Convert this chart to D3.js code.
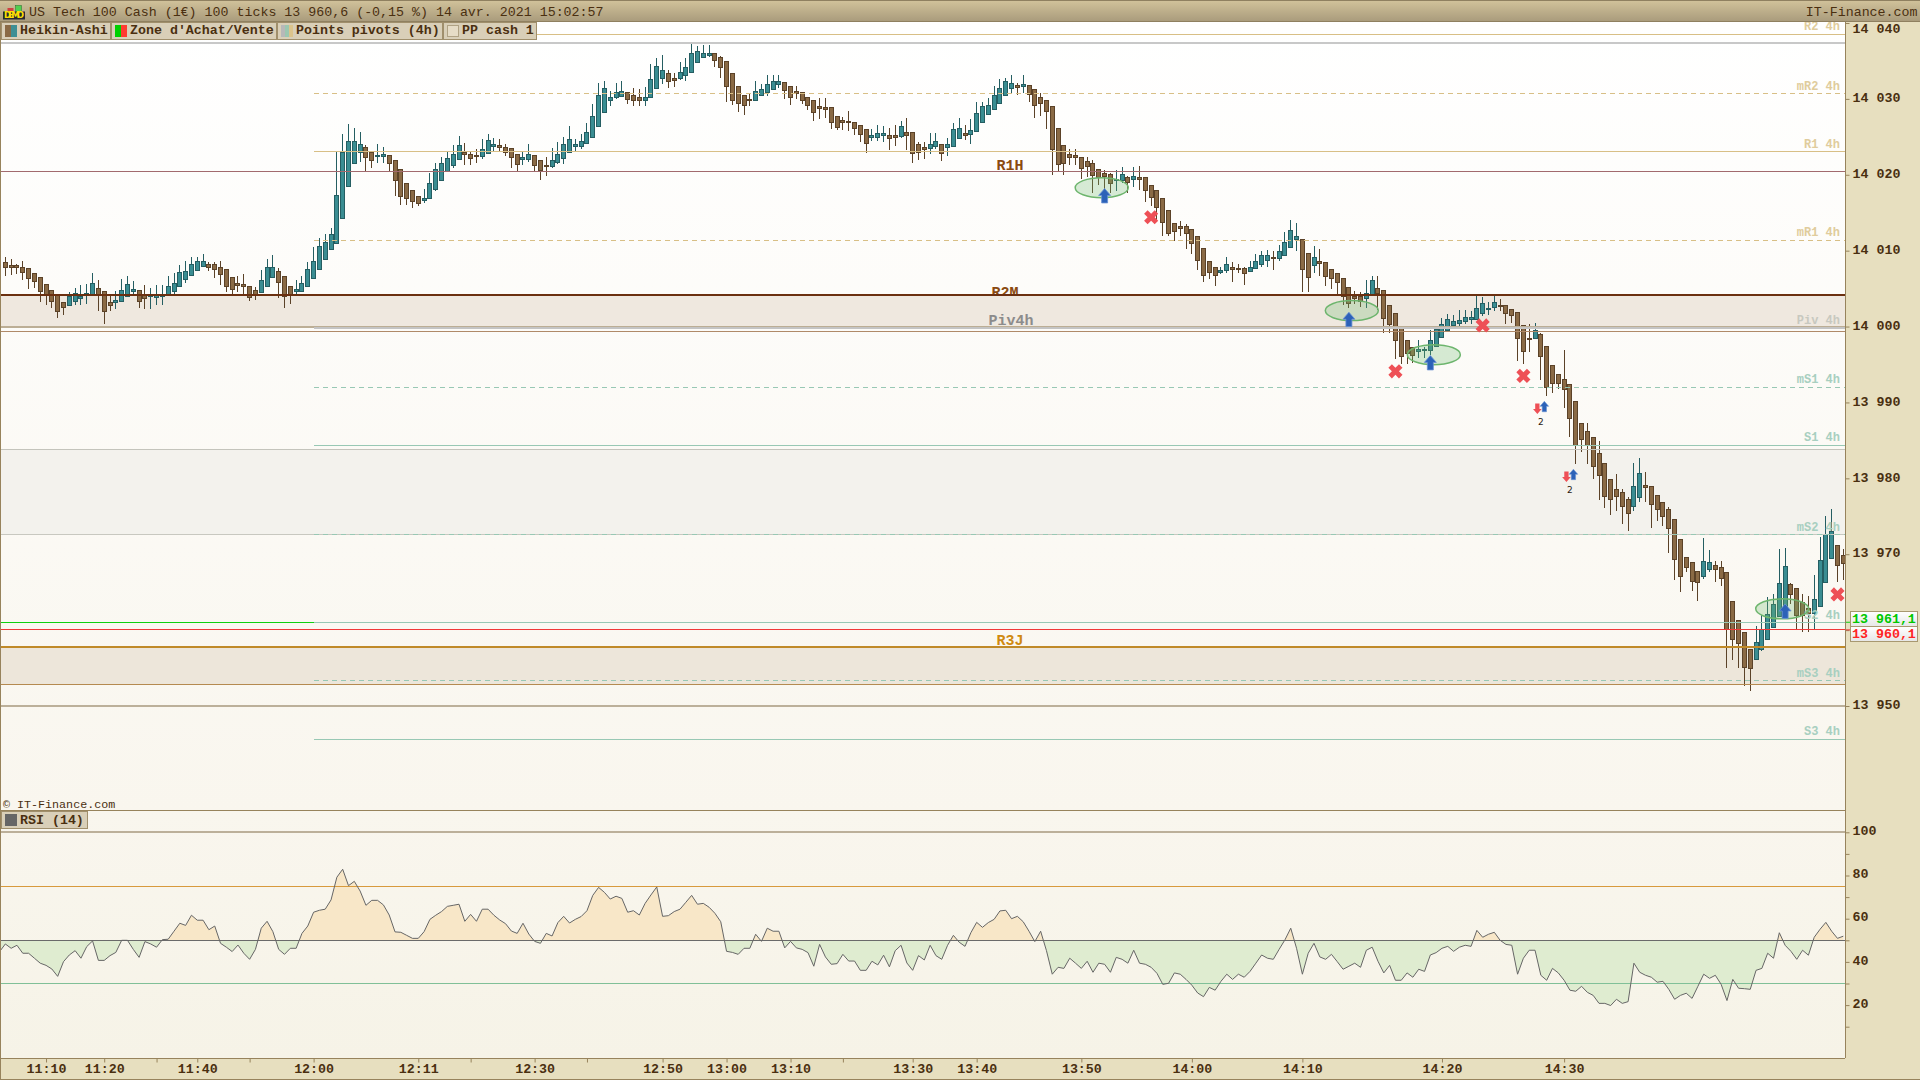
<!DOCTYPE html>
<html>
<head>
<meta charset="utf-8">
<title>US Tech 100 Cash</title>
<script src="https://cdn.jsdelivr.net/npm/d3@7"></script>
<style>
  html, body { margin: 0; padding: 0; background: #e7dfbf; overflow: hidden; }
  svg { display: block; }
  text { font-family: "Liberation Mono", monospace; }
</style>
</head>
<body>
<div id="chart"></div>
<script>
// Heikin-Ashi bars, in points above/below the 14 000 level
const basePrice = 14000;

const opens = [
  8.5,8.1,8.1,7.9,7.7,7,6.5,5.6,4.8,4.2, 3.2,2.8,3.3,3.8,4.3,4.3,5.1,4.7,3.3,3.2,
  3.3,4,4.7,4.8,4.2,4,4,4.1,4.2,4.7, 5.3,6.2,6.8,7.4,8,8.3,8.2,7.9,7.6,6.5,
  5.7,5.6,5.4,4.8,4.5,5.3,6.6,7.3,6.6,5.3, 4.7,4.7,5.3,6.4,7.6,9,10.2,11.1,14.3,18.6,
  21.5,23,23.6,23,22.5,22.5,22.6,22,20.7,18.9, 18,17.2,16.7,16.9,18,19.3,20.5,21.3,22,23,
  22.8,22.6,22.5,22.9,23.7,23.9,23.7,23.5,22.8,22.1, 22.2,22.6,21.9,21.3,21.2,21.6,22.2,23,23.8,23.8,
  24.3,24.9,26.4,28.4,29.9,30.2,30.5,30.9,30.5,30.2, 29.9,30.2,31.4,32.8,33.4,32.8,32.7,33.1,33.6,34.8,
  35.6,35.8,36,35.5,35,33.4,31.7,30.5,30,29.9, 30.5,30.8,31.3,31.9,32.2,31.7,31,30.9,30.3,29.8,
  29,28.9,28.9,27.8,27.2,27.1,27,26.6,26,25, 25,25.3,25.3,25.2,25.1,25.7,25.6,24.1,23.6,23.6,
  23.8,24.1,23.6,23.7,24.8,25.5,25.4,25.7,26.9,28, 28.6,29.5,30.5,31.4,31.8,31.6,31.8,31.3,30.2,29.8,
  29,26.2,23.9,22.7,22.6,22.4,21.8,21.5,20.7,20.2, 20.1,19.3,19.3,19.7,19.4,19.7,19.7,18.7,18,16.9,
  15.3,13.7,13.3,13.2,12.8,11.9,10.3,8.6,7.8,7.2, 7.4,7.8,7.7,7.7,7.4,7.7,8.2,8.7,9.1,9,
  9.5,10.5,11.5,11.6,9.7,8.1,8.6,8.5,7.6,7, 6.4,5.2,4,4,3.7,4.3,5.1,4.8,2.9,1.8,
  0,-1.8,-2.7,-3.2,-3.1,-3.1,-2.5,-1.4,-0.5,0.2, 0.4,0.7,1,1,1.8,2.4,2.5,2.9,2.8,2.3,
  1.9,0.2,-1.5,-1.6,-1,-2.5,-5.1,-6.3,-6.9,-7.6, -9.8,-12.7,-13.7,-14.6,-16.6,-18,-20.1,-21.4,-21.8,-22.7,
  -23.7,-22.4,-20.9,-21,-22.2,-23.1,-24.1,-25.4,-28,-30.4, -31,-32.2,-32.9,-31.9,-31.4,-31.7,-32.4,-36.2,-38.7,-40.3,
  -42.5,-43.9,-42.6,-41.2,-39.6,-38.1,-38.4,-33.9,-34.5,-36.3, -37.1,-37.7,-36.7,-33.7,-30.5,-28.8,-30.1
];
const closes = [
  7.8,7.9,7.8,7.2,6.4,6,4.6,4.2,3.3,2.1, 2.5,4,4.4,4,4.4,5.8,4.2,2.1,2.9,3.5,
  4.8,5.6,4.9,3.4,3.8,4.1,4.2,4.2,5.4,5.7, 7.2,7.3,8.2,8.6,8.6,7.9,7.6,7,5.4,4.9,
  5.4,5.3,4,4.3,6.1,7.8,7.9,5.8,4,4.1, 4.9,5.7,7.6,8.7,10.6,11.2,12.2,17.4,23,24.5,
  24.4,24.1,22.3,22,22.6,22.7,21.6,19.3,17.2,16.9, 16.5,16.3,17,18.9,20.7,21.6,22.2,22.8,23.9,22.7,
  22.3,22.5,23.4,24.6,24,23.7,23,22.3,21.5,22.3, 22.8,21.3,20.6,21.2,22,22.7,24,24.7,24,24.5,
  25.7,27.7,30.5,31.5,30.3,30.9,31.1,30,29.8,29.8, 30.3,32.6,34.3,33.8,32.4,32.5,33.5,34.2,36.1,36.3,
  36.1,36.1,35.1,34.2,31.7,29.9,29.4,29.2,29.9,31.1, 31.3,31.9,32.4,32.3,31.2,30.3,30.7,29.9,29.2,28.2,
  28.7,28.7,26.9,26.3,26.9,27,26.2,25.4,24.1,25.2, 25.5,25.5,24.9,25,26.4,25.3,22.8,23,23.4,24.1,
  24.4,22.9,24,26,26.1,25.3,25.9,28.1,29,29.2, 30.5,31.5,32.4,32.1,31.5,31.9,30.6,29.2,29.4,28.4,
  23.3,21.5,21.5,22.3,22.4,20.9,21.1,19.9,19.6,19.8, 18.9,19.4,20.1,19.1,19.8,19.5,18,17.1,15.8,13.7,
  12.3,12.6,13.1,12.3,10.9,8.7,6.7,7.2,6.7,7.4, 8.2,7.6,7.6,7.1,7.9,8.6,9.4,9.4,9,9.9,
  11.2,12.7,11.9,7.6,6.5,9.1,8.4,6.6,6.4,5.8, 4,3.1,3.8,3.4,4.4,6.1,4.5,1.1,0.4,-1.7,
  -3.8,-3.5,-3.8,-3,-3,-1.8,-0.3,0.3,1,0.7, 0.8,1.2,1.2,2.4,3.1,2.5,3.2,2.8,1.8,1.5,
  -1.5,-3.2,-1.6,-0.5,-3.9,-7.9,-7.5,-7.5,-8.2,-12.1, -15.6,-14.8,-15.6,-18.4,-19.5,-22.4,-22.7,-22.3,-23.6,-24.5,
  -21,-19.3,-21.2,-23.4,-24,-25,-26.6,-30.7,-32.9,-31.7, -33.5,-33.6,-30.9,-31,-31.9,-33.2,-39.9,-41.2,-41.7,-44.9,
  -45,-41.6,-39.9,-37.9,-36.6,-33.8,-31.6,-35.2,-38.1,-38, -37.7,-35.9,-30.7,-27.4,-27,-31.4,-31.2
];
const highs = [
  9.2,8.9,8.2,8.6,7.7,7,6.5,5.6,4.8,4.2, 3.3,4.5,5.1,5.5,5.6,7.1,6.1,4.7,4.2,4.7,
  6.3,6.7,6,4.8,5.5,5.1,5.5,5.5,6.7,7.1, 8.1,8.6,9.2,9.2,9.6,8.5,8.5,8.6,7.6,6.5,
  6.7,6.9,5.4,5.2,7.5,8.9,9.4,7.7,6.6,5.3, 6.1,6.7,8.5,10.5,11.7,12.2,13,23,25.4,26.7,
  26.2,25.6,23.9,23.1,24.1,23.7,22.6,22,20.7,18.9, 18,17.2,18.1,20.2,21.6,22.4,23,23.9,25.1,24.2,
  23,23.4,24.7,25.4,24.8,24.7,24.1,23.5,22.8,23, 24.1,22.6,21.9,22.3,23.5,24.3,25,26.4,24.7,25.4,
  26.8,29.3,32.1,32.3,31.1,32.1,32.3,30.9,31.4,31.3, 31.6,34.6,35.4,35.8,33.8,33.4,34.8,35.4,37.3,37,
  37.1,37.1,36,35.7,35,33.4,31.7,30.5,30.6,32.4, 32,33.1,33.1,33.1,32.2,31.7,31.7,30.9,30.3,29.8,
  30.1,30.1,28.9,27.8,27.6,28.4,27,26.6,26,26, 26.5,26.4,26.2,26.6,27.1,27.5,25.6,24.3,24.3,25.5,
  25.5,24.1,24.8,26.8,27.5,26.6,27.3,29.6,29.6,30.1, 31.7,32.6,32.8,33.1,32.1,33.1,31.8,31.3,30.8,29.8,
  29,26.2,23.9,23.4,23.4,22.4,22.4,21.9,20.7,20.6, 20.3,20.6,21,19.8,21,21.2,19.7,18.7,18,16.9,
  15.3,13.7,13.9,13.5,12.8,11.9,10.3,8.6,7.8,7.9, 9.1,8.5,8.3,7.9,8.6,9.5,9.9,10.1,9.9,10.7,
  12.4,14.1,13.7,11.6,9.7,10.6,10.2,8.5,7.6,7, 6.4,5.2,4.7,4.5,6.1,6.6,6.7,4.8,2.9,1.8,
  0,-1.8,-2.7,-1.8,-2.7,-0.5,0.1,1.1,1.7,1.5, 2.2,2.2,2,4.2,3.9,3.3,4,3.6,2.9,2.3,
  1.9,0.2,0.4,0.5,-0.9,-2.5,-5.1,-6.3,-3.1,-7.6, -9.8,-12.7,-12.7,-14.6,-15.1,-18,-20.1,-19.4,-21.4,-22.5,
  -18,-17.3,-19.1,-21,-22.2,-23.1,-23.8,-25.4,-28,-30.4, -31,-32.2,-27.8,-29.5,-30.9,-30.9,-32.4,-36.2,-38.7,-40.3,
  -42.5,-39.4,-38,-35.7,-35.2,-29.3,-29.2,-33.8,-34.5,-35.3, -35.5,-32.7,-27.7,-24.9,-24.1,-28.8,-29.3
];
const lows = [
  6.6,6.8,6.9,6.1,5,5.1,3.3,2.9,2.4,1.1, 1.5,2.8,2.9,2.8,3,4.2,2.1,0.4,2.1,2.3,
  3.3,4,4,2.5,2.3,2.3,2.9,2.9,4.2,4.2, 5.3,5.7,6.7,7.4,7.9,7.3,6.4,5.5,4.5,4.1,
  4.6,4.2,3.4,3.5,4.4,5.3,6.6,3.8,2.5,3, 4.2,4.5,5.3,6.3,7.5,9,10.1,11.1,14.2,18.6,
  21.5,21.7,20.5,20.9,21.6,21.6,20.5,17.2,16,16, 15.6,15.9,16.3,16.8,17.9,19.2,20.5,20.9,22,21.3,
  21.3,21.6,22.1,22.8,23,23.1,22.5,20.9,20.5,21.3, 21.7,20.5,19.3,19.9,20.9,21.4,21.4,22.9,23,23.4,
  24.2,24.9,26.3,28.3,29.1,30,30.2,29.3,29.1,29.1, 29.1,30.2,31.3,31.9,31.4,31.6,32.5,32.4,33.5,34.7,
  35.4,35.5,34.2,32.8,29.6,29.2,28.3,27.9,29.1,29.9, 30.4,30.4,31.3,31.4,30,29.2,30,29.3,28.5,27.1,
  27.4,27.5,26,25.9,25.9,25.8,25.2,24.3,22.9,24.4, 24.5,24.3,23.3,23.8,24.9,23.3,21.6,22,22.1,22.7,
  23.4,21.8,22.5,23.7,24.7,24.6,24.1,25.7,26.9,27.9, 28.6,29.5,30.4,30.8,30.5,30.8,29.6,27.5,27.7,26,
  20,20.5,20,21.3,21.3,19.5,19.7,17.6,18.7,18, 17.6,17.9,18.9,17.6,18.4,18,16.4,15.9,13.8,11.9,
  11.9,11.3,11.9,10.2,9.6,7.4,5.9,6.3,5.4,6.9, 7.1,5.9,7,5.5,7.4,7.6,7.9,7.9,7.5,8.7,
  9.5,10.4,9.9,4.6,4.6,7,6.6,5.4,4.9,4.3, 2.9,2.5,3,2.6,2.5,4,2.2,-0.8,-0.9,-4.3,
  -4.9,-4.9,-4.8,-4.2,-4.2,-3.8,-2.5,-1.4,-0.5,0.1, -0.1,0.3,0.3,1,1.4,1.5,2.1,2.1,0.4,0.5,
  -4.5,-4.9,-3.3,-1.6,-7,-9.1,-8.7,-8.2,-10.7,-14.5, -18.1,-16.5,-18.1,-20.1,-22.8,-23.9,-24.8,-24.3,-26,-27,
  -24.3,-23.1,-23.1,-26.5,-25.6,-26.3,-29.8,-33.4,-35,-32.4, -34.8,-36.1,-33.3,-32.3,-33.6,-34.2,-45,-44,-45,-47.3,
  -48,-43.9,-42.7,-41.2,-39.6,-38.1,-38.4,-36.5,-39.9,-40.3, -40.3,-39.9,-36.7,-33.7,-30.6,-33.7,-33.4
];

// RSI (14), first value belongs to the bar just off the left edge
const rsiValues = [
  44.7,
  48.3,46.3,47.7,44,44,41.7,39.4,38.4,36.7,33.3, 40.1,43.2,45.2,41.7,47.1,49.7,40.7,40.7,42.9,44.4,
  50,50,45.8,42.1,49.4,48.3,46.8,50.3,50.5,54.2, 57.9,56.9,61.6,59.3,59.3,54.9,56.6,48.6,46.8,44.8,
  47.8,44,41.2,45.8,55.6,58.8,54,45.8,43.5,46.3, 46.3,53.2,56.6,63,63.9,64.4,68.7,79.2,82.9,75.3,
  77.3,72.8,66.2,68.5,68.5,66.4,61.7,53.9,53.7,52.3, 50.9,50.9,54,59.7,61.6,63.3,65.7,66.2,66.7,58.8,
  62,58.8,64.4,64.4,61.6,59.4,57.7,54.3,53.2,57.9, 52.9,49.5,48.6,53.2,52,58.2,61.1,58,59.7,61,
  63.7,70.8,74.5,72.2,69.1,70.4,69.4,63,63.7,61.7,
  67.1,71,74.7,61.1,61.4,63.3,64.4,67.6,70.8,66.7, 67.1,65.3,62.5,58.6,44.9,44.4,43.5,46.3,46.3,52.8,
  49.5,55.6,54.2,54.2,46.5,49.5,46.5,45.8,44.3,38, 48.1,42.3,38.9,39.2,43.5,40.4,40.4,36.1,36.1,40.3,
  38.6,43.1,37.7,45.2,47.7,39.5,36.1,42.9,40.9,47.7, 42.9,41.2,47.7,52.3,49.1,47.2,53.5,58.3,56,58.2,
  59.7,63.6,63.9,60,61.1,58.6,54.2,49.4,54.2,45.2, 34.3,37.5,37,41.7,39.4,37,40.3,35.2,39.4,38.9,
  35.2,42.1,41.2,39.4,45.4,39.4,38.9,37.5,34.7,29.6, 30.1,34.9,34.3,31.9,29.2,25.6,23.9,28.2,26.9,31,
  34.3,31.9,34.3,32.9,35.6,39.4,43.2,41.7,41.2,45.8,
  50.2,55.6,46.3,34.3,44,48.6,42.3,41.2,43.5,40.1, 36.6,38,39.4,37.5,45.4,46.8,40.3,34.9,38.4,31.5,
  31.5,34.9,32.9,36.6,35.6,43.2,44.3,46.3,47.2,44.9, 46.8,47.7,47.2,54.6,51.4,52.8,53.7,50,48.1,47.7,
  34.3,41.7,45.4,45.4,33.8,31.5,37,34.9,31.5,26.9, 26.4,28.7,25.9,24.5,20.8,20.8,19.8,22.7,20.8,21.6,
  39.4,35.2,33.8,32.9,30.6,31,27.3,22.7,24.5,25.5, 23.1,28.7,34.3,32.4,33.8,29.6,22.1,31.9,27.8,27.6,
  27.3,36.1,37,44,41.7,53.5,47.7,44.9,41.2,45.4, 43.1,51.4,55.1,58.3,54.2,50.9,51.9
];

// Axes
const priceTicks = [14040, 14030, 14020, 14010, 14000, 13990, 13980, 13970, 13960, 13950];
const rsiTicks = [100, 90, 80, 70, 60, 50, 40, 30, 20, 10];
const timeBars = [7, 17, 26, 33, 42, 53, 71, 80, 91, 100, 113, 124, 135, 144, 156, 167, 185, 204, 223, 247, 268];
const timeLabels = ['11:10', '11:20', '', '11:40', '', '12:00', '12:11', '', '12:30', '', '12:50', '13:00', '13:10', '', '13:30', '13:40', '13:50', '14:00', '14:10', '14:20', '14:30'];

// Pivot levels, 4h pivots start at the 12:00 bar
const pivotStartBar = 53;
const pivotNames = ['R2 4h', 'mR2 4h', 'R1 4h', 'mR1 4h', 'Piv 4h', 'mS1 4h', 'S1 4h', 'mS2 4h', 'S2 4h', 'mS3 4h', 'S3 4h'];
const pivotPrices = [14038.5, 14030.7, 14023.05, 14011.35, 13999.75, 13992, 13984.35, 13972.55, 13961, 13953.3, 13945.6];

// Full-width levels
const levelNames = ['gridTop', 'R1H', 'R2M', 'bandPivot', 'cashPivot', 'greyHigh', 'greyLow', 'bid', 'R3J', 'cashLow', 'round'];
const levelPrices = [14037.3, 14020.4, 14004.15, 13999.95, 13999.35, 13983.8, 13972.55, 13960.1, 13957.8, 13952.85, 13950];

const zoneTops = [14004.15, 13983.8, 13957.8];
const zoneBottoms = [13999.95, 13972.55, 13952.85];

const askPrice = 13961.1;
const bidPrice = 13960.1;

// Signals on the bars
const zoneBars = [188.5, 231.5, 245.6, 305.5];
const zonePrices = [14018.3, 14002.1, 13996.3, 13962.8];
const buyBars = [189, 231, 245, 306];
const buyPrices = [14018.2, 14001.9, 13996.2, 13963.45];
const crossBars = [197, 239, 254, 261, 315];
const crossPrices = [14014.4, 13994.1, 14000.15, 13993.5, 13964.7];
const pairBars = [264, 269];
const pairPrices = [13990.15, 13981.2];
const pairCounts = ['2', '2'];

// Legend tabs
const tabNames = ['Heikin-Ashi', "Zone d'Achat/Vente", 'Points pivots (4h)', 'PP cash 1'];

const ink = '#4a2f10';
const brownFill = '#8a6a45', brownLine = '#5b4228';
const tealFill = '#3a8d92', tealLine = '#255e62';
const border = '#97835c';
const levelLook = {
  gridTop: { stroke: '#c8c8c8', width: 2 },
  R1H: { stroke: '#a26a6e', width: 1 },
  R2M: { stroke: '#6b3010', width: 2 },
  bandPivot: { stroke: '#bcae95', width: 2 },
  cashPivot: { stroke: '#b08a68', width: 1 },
  greyHigh: { stroke: '#c4c4bc', width: 1 },
  greyLow: { stroke: '#c8c8c0', width: 1 },
  bid: { stroke: '#f03838', width: 1 },
  R3J: { stroke: '#c08a28', width: 2 },
  cashLow: { stroke: '#b58a50', width: 1 },
  round: { stroke: '#bcb09a', width: 2 }
};

const width = 1920;
const height = 1080;
const plotRight = 1845;
const priceTop = 22, priceBottom = 810, rsiBottom = 1058;

const svg = d3.select('#chart').append('svg')
  .attr('width', width)
  .attr('height', height);

const defs = svg.append('defs');
function gradient(id, stops) {
  const g = defs.append('linearGradient').attr('id', id)
    .attr('x1', 0).attr('x2', 0).attr('y1', 0).attr('y2', 1);
  stops.forEach((c, i) => g.append('stop')
    .attr('offset', i / (stops.length - 1)).attr('stop-color', c));
}
gradient('headGrad', ['#d2c39b', '#a89a7b']);
gradient('priceGrad', ['#ffffff', '#f9f6ee']);
gradient('rsiGrad', ['#f9f6ee', '#f6f3e7']);
gradient('boxGrad', ['#ffffff', '#e6e6e6']);

defs.append('clipPath').attr('id', 'priceClip').append('rect')
  .attr('x', 1).attr('y', priceTop).attr('width', plotRight - 1).attr('height', priceBottom - priceTop);
defs.append('clipPath').attr('id', 'rsiClip').append('rect')
  .attr('x', 1).attr('y', priceBottom).attr('width', plotRight - 1).attr('height', rsiBottom - priceBottom);

// Scales
const x = d3.scaleLinear().domain([0, 316]).range([5.33, 1843.3]);
const y = d3.scaleLinear().domain([13950, 14040]).range([706, 23]);
const yRsi = d3.scaleLinear().domain([0, 100]).range([1048.3, 832.3]);
const yOffset = v => y(basePrice + v);
const snap = v => Math.round(v) + 0.5;

// Backgrounds
svg.append('rect').attr('width', width).attr('height', height).attr('fill', '#e7dfbf');
svg.append('rect').attr('x', 1).attr('y', priceTop).attr('width', plotRight - 1)
  .attr('height', priceBottom - priceTop).attr('fill', 'url(#priceGrad)');
svg.append('rect').attr('x', 1).attr('y', priceBottom).attr('width', plotRight - 1)
  .attr('height', rsiBottom - priceBottom).attr('fill', 'url(#rsiGrad)');

const price = svg.append('g').attr('clip-path', 'url(#priceClip)');

// R2M is drawn before the bands, the band cuts the foot of the letters
price.append('text').attr('x', 1005).attr('y', y(14004.15) + 2)
  .attr('text-anchor', 'middle').attr('font-size', 15).attr('font-weight', 'bold')
  .attr('fill', '#8a4a10').text('R2M');

// Zones
const zoneColors = ['#efe8df', '#f3f2ed', '#ede6da'];
zoneTops.forEach((top, i) => {
  price.append('rect')
    .attr('x', 1).attr('width', plotRight - 1)
    .attr('y', y(top)).attr('height', y(zoneBottoms[i]) - y(top))
    .attr('fill', zoneColors[i]);
});

// Candles
const bars = price.append('g').selectAll('g')
  .data(opens.map((o, i) => ({ i, o, h: highs[i], l: lows[i], c: closes[i] })))
  .enter().append('g');

bars.append('line')
  .attr('x1', d => Math.floor(x(d.i)) + 0.5)
  .attr('x2', d => Math.floor(x(d.i)) + 0.5)
  .attr('y1', d => yOffset(d.h))
  .attr('y2', d => yOffset(d.l))
  .attr('stroke', d => d.c >= d.o ? tealLine : brownLine)
  .attr('stroke-width', 1)
  .attr('shape-rendering', 'crispEdges');

bars.append('rect')
  .attr('x', d => Math.floor(x(d.i)) - 1.5)
  .attr('width', 4)
  .attr('y', d => snap(yOffset(Math.max(d.o, d.c))))
  .attr('height', d => Math.max(1, Math.round(yOffset(Math.min(d.o, d.c)) - yOffset(Math.max(d.o, d.c)))))
  .attr('fill', d => d.c >= d.o ? tealFill : brownFill)
  .attr('stroke', d => d.c >= d.o ? tealLine : brownLine)
  .attr('stroke-width', 1)
  .attr('shape-rendering', 'crispEdges');

// Ask line, only visible before the pivots start
price.append('line')
  .attr('x1', 1).attr('x2', plotRight)
  .attr('y1', snap(y(askPrice))).attr('y2', snap(y(askPrice)))
  .attr('stroke', '#10d010').attr('shape-rendering', 'crispEdges');

// Full-width levels
levelNames.forEach((name, i) => {
  const look = levelLook[name];
  price.append('line')
    .attr('x1', 1).attr('x2', plotRight)
    .attr('y1', y(levelPrices[i])).attr('y2', y(levelPrices[i]))
    .attr('stroke', look.stroke).attr('stroke-width', look.width)
    .attr('shape-rendering', 'crispEdges');
});

// 4h pivots
pivotNames.forEach((name, i) => {
  const kind = name.replace('m', '')[0];
  const line = kind === 'R' ? '#d8bf86' : kind === 'S' ? '#98c8b4' : '#c4c4c4';
  const label = kind === 'R' ? '#e0cc9c' : kind === 'S' ? '#a8cfc0' : '#c8c8c0';
  const py = y(pivotPrices[i]);
  price.append('line')
    .attr('x1', x(pivotStartBar)).attr('x2', plotRight)
    .attr('y1', py).attr('y2', py)
    .attr('stroke', line)
    .attr('stroke-width', name === 'Piv 4h' ? 2 : 1)
    .attr('stroke-dasharray', name[0] === 'm' ? '5,4' : null)
    .attr('shape-rendering', 'crispEdges');
  price.append('text')
    .attr('x', 1840).attr('y', py - 4)
    .attr('text-anchor', 'end').attr('font-size', 12).attr('font-weight', 'bold')
    .attr('fill', label).text(name);
});

// Level labels
function levelLabel(text, level, dy, color, cx) {
  price.append('text').attr('x', cx).attr('y', y(level) + dy)
    .attr('text-anchor', 'middle').attr('font-size', 15).attr('font-weight', 'bold')
    .attr('fill', color).text(text);
}
levelLabel('R1H', 14020.4, -2, '#8a4a10', 1010);
levelLabel('Piv4h', 13999.95, -2, '#8c8c8c', 1011);
levelLabel('R3J', 13957.8, -2, '#d08a10', 1010);

// Signal zones
price.selectAll('.zone')
  .data(zoneBars)
  .enter().append('ellipse')
  .attr('class', 'zone')
  .attr('cx', d => x(d))
  .attr('cy', (d, i) => y(zonePrices[i]))
  .attr('rx', 26.5).attr('ry', 10)
  .attr('fill', 'rgba(110,185,110,0.28)')
  .attr('stroke', '#6db56d').attr('stroke-width', 1.5);

// Arrow outline, tip on the origin
const arrowUp = 'M0,0L6,7L3,7L3,14.5L-3,14.5L-3,7L-6,7Z';

price.selectAll('.buy')
  .data(buyBars)
  .enter().append('path')
  .attr('class', 'buy')
  .attr('d', arrowUp)
  .attr('transform', (d, i) => `translate(${x(d)},${y(buyPrices[i])})`)
  .attr('fill', '#2c62b8').attr('stroke', '#6a92d4').attr('stroke-width', 0.8);

const crossPath = d3.symbol().type(d3.symbolCross).size(125)();
price.selectAll('.sell')
  .data(crossBars)
  .enter().append('path')
  .attr('class', 'sell')
  .attr('d', crossPath)
  .attr('transform', (d, i) => `translate(${x(d)},${y(crossPrices[i])}) rotate(45)`)
  .attr('fill', '#ee5056');

pairBars.forEach((bar, i) => {
  const px = x(bar), py = y(pairPrices[i]);
  price.append('path').attr('d', arrowUp)
    .attr('transform', `translate(${px + 3.5},${py}) scale(0.72)`)
    .attr('fill', '#2c62b8').attr('stroke', '#6a92d4').attr('stroke-width', 0.8);
  price.append('path').attr('d', arrowUp)
    .attr('transform', `translate(${px - 3.5},${py + 12.7}) scale(0.72,-0.72)`)
    .attr('fill', '#ee5056');
  price.append('text').attr('x', px).attr('y', py + 24)
    .attr('text-anchor', 'middle').attr('font-size', 9)
    .style('font-family', 'DejaVu Sans')
    .attr('fill', '#2a2010').text(pairCounts[i]);
});

// Copyright line
svg.append('text').attr('x', 3).attr('y', 808)
  .attr('font-size', 11.7).attr('fill', ink).text('© IT-Finance.com');

// RSI panel
const rsi = svg.append('g').attr('clip-path', 'url(#rsiClip)');
const rsiPoints = rsiValues.map((v, i) => ({ bar: i - 1, v }));
const rsiArea = d3.area().x(d => x(d.bar)).y0(yRsi(50)).y1(d => yRsi(d.v));
const rsiLine = d3.line().x(d => x(d.bar)).y(d => yRsi(d.v));

defs.append('clipPath').attr('id', 'rsiUp').append('rect')
  .attr('x', 0).attr('y', priceBottom).attr('width', plotRight).attr('height', yRsi(50) - priceBottom);
defs.append('clipPath').attr('id', 'rsiDown').append('rect')
  .attr('x', 0).attr('y', yRsi(50)).attr('width', plotRight).attr('height', rsiBottom - yRsi(50));

rsi.append('path').datum(rsiPoints).attr('d', rsiArea)
  .attr('clip-path', 'url(#rsiUp)').attr('fill', '#f8e7c8');
rsi.append('path').datum(rsiPoints).attr('d', rsiArea)
  .attr('clip-path', 'url(#rsiDown)').attr('fill', '#dfecd0');

const rsiLevels = [100, 75, 50, 30];
const rsiLevelColors = ['#bcb09a', '#d89a3c', '#6a6a6a', '#80c098'];
const rsiLevelWidths = [2, 1, 1, 1];
rsiLevels.forEach((level, i) => {
  rsi.append('line')
    .attr('x1', 1).attr('x2', plotRight)
    .attr('y1', yRsi(level)).attr('y2', yRsi(level))
    .attr('stroke', rsiLevelColors[i]).attr('stroke-width', rsiLevelWidths[i])
    .attr('shape-rendering', 'crispEdges');
});

rsi.append('path').datum(rsiPoints).attr('d', rsiLine)
  .attr('fill', 'none').attr('stroke', '#666666').attr('stroke-width', 1);

// Frame
svg.append('rect').attr('x', 0).attr('y', priceTop).attr('width', 1).attr('height', height - priceTop).attr('fill', border);
svg.append('line').attr('x1', 1).attr('x2', plotRight).attr('y1', 810.5).attr('y2', 810.5)
  .attr('stroke', border);

// Axes
function styleAxis(g) {
  g.selectAll('path.domain').attr('stroke', border).attr('stroke-width', 1);
  g.selectAll('line').attr('stroke', border);
  g.selectAll('text')
    .attr('fill', ink).attr('font-size', 13.3).attr('font-weight', 'bold')
    .style('font-family', '"Liberation Mono", monospace');
}

// 13 960 has a tick only, the ask and bid boxes sit on its label place
const priceAxis = svg.append('g')
  .attr('transform', `translate(${plotRight + 0.5},0)`)
  .call(d3.axisRight(y).tickValues(priceTicks).tickSizeOuter(0).tickSize(4).tickPadding(3)
    .tickFormat(d => d === 13960 ? '' : `${Math.floor(d / 1000)} ${String(d % 1000).padStart(3, '0')}`));
styleAxis(priceAxis);
priceAxis.selectAll('.tick text').attr('y', -1.5);
priceAxis.selectAll('.tick text').filter(d => d === 14040).attr('y', 5);
priceAxis.select('path.domain').attr('d', `M0,${priceTop}V${priceBottom}`);

const rsiAxis = svg.append('g')
  .attr('transform', `translate(${plotRight + 0.5},0)`)
  .call(d3.axisRight(yRsi).tickValues(rsiTicks).tickSize(4).tickPadding(3)
    .tickFormat(d => d % 20 === 0 ? d : ''));
styleAxis(rsiAxis);
rsiAxis.selectAll('.tick text').attr('y', -2);
rsiAxis.select('path.domain').attr('d', `M0,${priceBottom}V${rsiBottom}`);

const timeAxis = svg.append('g')
  .attr('transform', `translate(0,${rsiBottom + 0.5})`)
  .call(d3.axisBottom(x).tickValues(timeBars).tickSize(4).tickPadding(1)
    .tickFormat((d, i) => timeLabels[i]));
styleAxis(timeAxis);
timeAxis.select('path.domain').attr('d', `M1,0H${plotRight}`);

svg.append('line').attr('x1', 0).attr('x2', width).attr('y1', 1079.5).attr('y2', 1079.5).attr('stroke', border);

// Ask and bid boxes
const boxTexts = ['13 961,1', '13 960,1'];
const boxColors = ['#00c800', '#ff2424'];
const boxTop = [611, 626];
boxTexts.forEach((t, i) => {
  svg.append('rect').attr('x', 1850.5).attr('y', boxTop[i] + 0.5).attr('width', 67).attr('height', 15)
    .attr('fill', 'url(#boxGrad)').attr('stroke', '#a89870');
  svg.append('text').attr('x', 1852).attr('y', boxTop[i] + 11.5)
    .attr('font-size', 13.3).attr('font-weight', 'bold').attr('fill', boxColors[i]).text(t);
});
svg.append('rect').attr('x', 1846).attr('y', y(askPrice)).attr('width', 4).attr('height', 1).attr('fill', '#10d010');
svg.append('rect').attr('x', 1846).attr('y', y(bidPrice)).attr('width', 4).attr('height', 1).attr('fill', '#f03838');

// Header
svg.append('rect').attr('width', width).attr('height', 22).attr('fill', 'url(#headGrad)');
svg.append('line').attr('x1', 0).attr('x2', width).attr('y1', 0.5).attr('y2', 0.5).attr('stroke', '#8f8060');
svg.append('line').attr('x1', 0).attr('x2', width).attr('y1', 21.5).attr('y2', 21.5).attr('stroke', '#8f8060');
svg.append('text').attr('x', 29).attr('y', 16).attr('font-size', 13.3).attr('fill', ink)
  .text('US Tech 100 Cash (1€) 100 ticks 13 960,6 (-0,15 %) 14 avr. 2021 15:02:57');
svg.append('text').attr('x', 1917.5).attr('y', 16).attr('text-anchor', 'end')
  .attr('font-size', 13.3).attr('fill', ink).text('IT-Finance.com');

// DEMO badge
const badge = svg.append('g');
badge.append('rect').attr('x', 7.5).attr('y', 8).attr('width', 6).attr('height', 4).attr('fill', '#d04040');
badge.append('rect').attr('x', 15.5).attr('y', 5.5).attr('width', 6).attr('height', 6).attr('fill', '#50d050').attr('stroke', '#2a6a2a').attr('stroke-width', 0.5);
badge.append('rect').attr('x', 3).attr('y', 11.5).attr('width', 22).attr('height', 8).attr('fill', '#262a30');
badge.append('text').attr('x', 14).attr('y', 18.3).attr('text-anchor', 'middle')
  .attr('font-size', 8.5).attr('font-weight', 'bold').attr('fill', '#ffe000')
  .style('font-family', 'DejaVu Sans').attr('textLength', 20).text('DEMO');

// Legend tabs
const tabLeft = [1, 111, 277, 443];
const tabWidth = [110, 166, 166, 94];
const tabSwatches = [
  ['#8a6a45', '#3e8f94'],
  ['#00d000', '#ff3a30'],
  ['#b8b8b8', '#9cc7b0', '#dcc48c'],
  ['#e6dcc6']
];
function drawTab(left, top, w, h, name, colors, textY) {
  svg.append('rect').attr('x', left + 0.5).attr('y', top + 0.5).attr('width', w - 1).attr('height', h - 1)
    .attr('fill', '#d9cfb8').attr('stroke', '#a08f6c');
  const sw = 12 / colors.length;
  colors.forEach((c, i) => {
    svg.append('rect').attr('x', left + 4 + i * sw).attr('y', top + 3).attr('width', sw).attr('height', 12).attr('fill', c);
  });
  svg.append('text').attr('x', left + 19).attr('y', top + textY)
    .attr('font-size', 13.3).attr('font-weight', 'bold').attr('fill', ink).text(name);
}
tabNames.forEach((name, i) => drawTab(tabLeft[i], 22, tabWidth[i], 18, name, tabSwatches[i], 12));
svg.append('rect').attr('x', tabLeft[3] + 4.5).attr('y', 25.5).attr('width', 11).attr('height', 11)
  .attr('fill', 'none').attr('stroke', '#b0a284');
drawTab(1, 811, 87, 18, 'RSI (14)', ['#666666'], 12.5);
</script>
</body>
</html>
